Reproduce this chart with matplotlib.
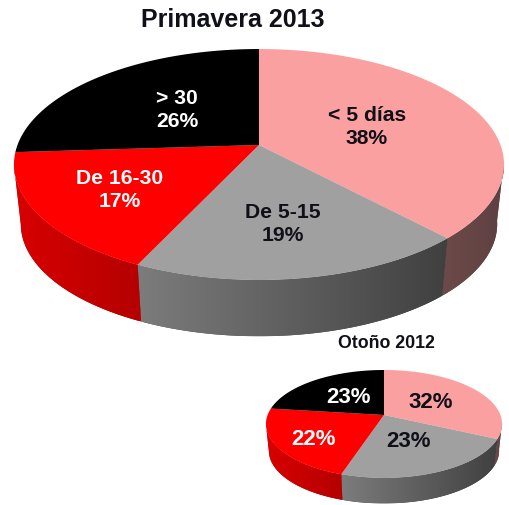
import numpy as np
import matplotlib
matplotlib.use("Agg")
import matplotlib.pyplot as plt
from matplotlib.colors import to_rgb
from matplotlib.patches import Polygon

plt.rcParams['font.family'] = ['Liberation Sans', 'DejaVu Sans']

# clockwise from 12 o'clock
big_values = [38, 19, 17, 26]
small_values = [32, 23, 22, 23]
big_labels = ["< 5 días\n38%", "De 5-15\n19%", "De 16-30\n17%", "> 30\n26%"]
small_labels = ["32%", "23%", "22%", "23%"]
title_big = "Primavera 2013"
title_small = "Otoño 2012"

top_colors = ["#FBA0A0", "#A0A0A0", "#FF0000", "#000000"]
text_colors = ["#101018", "#101018", "white", "white"]
wall_left = ["#6E4A4A", "#7C7C7C", "#D80000", "#000000"]
wall_right = ["#5E4040", "#404040", "#B40000", "#000000"]


def rim(t, cx, cy, d, a, c):
    # circle seen in perspective, apex of the slices is (cx, cy)
    u, v = np.sin(t), np.cos(t)
    return cx + d * u / (1 + c * v), cy - a * v / (1 + c * v)


def draw_pie(ax, values, labels, label_pos, cx, cy, d, a, c, shrink, depth, fontsize):
    edges = np.radians(np.cumsum([0] + values) / sum(values) * 360)

    # side wall first, only the front part of the rim shows
    for i in range(len(values)):
        lo = max(edges[i], np.radians(98))
        hi = min(edges[i + 1], np.radians(260))
        if hi <= lo:
            continue
        ts = np.linspace(lo, hi, 120)
        x, y = rim(ts, cx, cy, d, a, c)
        xb = cx + (x - cx) * shrink
        yb = cy + (y - cy) * shrink + depth
        px = np.r_[x, xb[::-1]]
        py = np.r_[y, yb[::-1]]
        # solid polygon under the gradient keeps the edge smooth
        ax.fill(px, py, color=wall_right[i], lw=0)
        c0, c1 = np.array(to_rgb(wall_left[i])), np.array(to_rgb(wall_right[i]))
        grad = np.linspace(0, 1, 256)[None, :, None]
        img = c0 * (1 - grad) + c1 * grad
        im = ax.imshow(img, extent=[px.min(), px.max(), py.max(), py.min()], aspect='auto',
                       interpolation='bilinear', zorder=1)
        im.set_clip_path(Polygon(np.c_[px, py], transform=ax.transData))

    for i in range(len(values)):
        ts = np.linspace(edges[i], edges[i + 1], 200)
        x, y = rim(ts, cx, cy, d, a, c)
        ax.fill(np.r_[cx, x], np.r_[cy, y], color=top_colors[i], lw=0, zorder=2)

    for i, lab in enumerate(labels):
        ax.text(label_pos[i][0], label_pos[i][1], lab, color=text_colors[i], fontsize=fontsize,
                fontweight='bold', ha='center', va='center', linespacing=1.32, zorder=3)


fig = plt.figure(figsize=(5.09, 5.06), dpi=100)
ax = fig.add_axes([0, 0, 1, 1])

draw_pie(ax, big_values, big_labels, [(367, 127), (283, 224), (120, 190), (177, 110)],
         259, 146, 241.5, 112.2, 0.169, 0.972, 60, 15.2)
draw_pie(ax, small_values, small_labels, [(431, 403), (409, 442), (314, 440), (349, 398)],
         384, 416, 116.4, 52.5, 0.1667, 0.975, 27, 16)

ax.text(233, 20, title_big, fontsize=18, fontweight='bold', ha='center', va='center', color='#101018')
ax.text(386, 343, title_small, fontsize=12.8, fontweight='bold', ha='center', va='center', color='#101018')

ax.set_xlim(0, 509)
ax.set_ylim(506, 0)
ax.axis('off')

plt.savefig("out.png", dpi=100)
